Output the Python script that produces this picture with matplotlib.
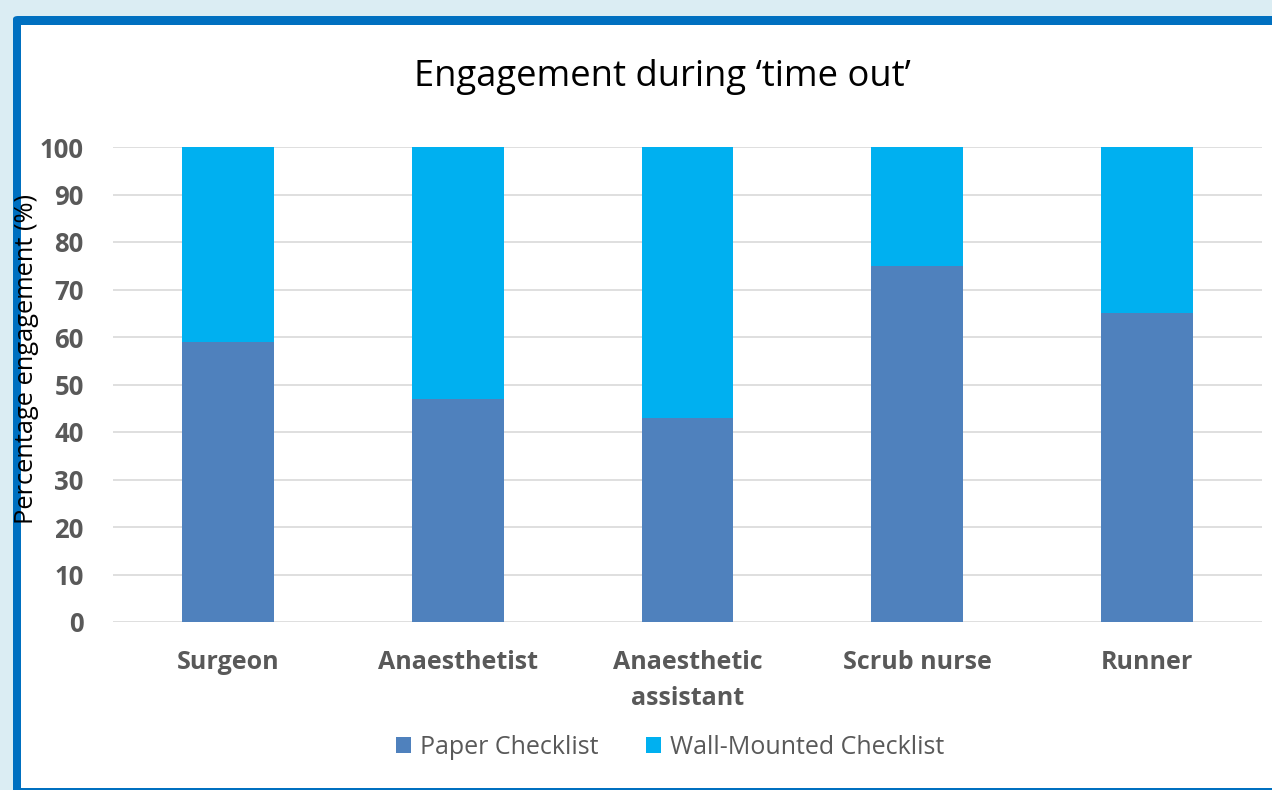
import numpy as np
import matplotlib.pyplot as plt
from matplotlib.patches import Rectangle, FancyBboxPatch

#--------data--------
roles = ["Surgeon", "Anaesthetist", "Anaesthetic\nassistant", "Scrub nurse", "Runner"]
paper = [59, 47, 43, 75, 65]
wall = [41, 53, 57, 25, 35]
series_names = ["Paper Checklist", "Wall-Mounted Checklist"]
#--------config--------
c_paper = "#4f81bd"
c_wall = "#00b0f0"
grey = "#595959"
W, H = 1272, 790

plt.rcParams['font.family'] = ['Open Sans', 'DejaVu Sans']

fig = plt.figure(figsize=(W / 100, H / 100), dpi=100)
fig.patch.set_facecolor("#dbedf3")

# frame: blue border + white panel
fig.patches.append(FancyBboxPatch((13 / W, (H - 800) / H), 1.1, (800 - 16) / H,
                                  boxstyle="round,pad=0,rounding_size=0.004",
                                  transform=fig.transFigure, facecolor="#0070c0",
                                  edgecolor="none", zorder=-2))
fig.patches.append(Rectangle((21 / W, 2 / H), 1.1, (788 - 25) / H,
                             transform=fig.transFigure, facecolor="white",
                             edgecolor="none", zorder=-1))

ax = fig.add_axes([113 / W, (H - 622) / H, (1262 - 113) / W, (622 - 147) / H])
ax.set_facecolor("none")
ax.set_zorder(1)

x = np.arange(len(roles))
ax.bar(x, paper, width=0.4, color=c_paper, label=series_names[0], zorder=3)
ax.bar(x, wall, width=0.4, bottom=paper, color=c_wall, label=series_names[1], zorder=3)

ax.set_xlim(-0.5, len(roles) - 0.5)
ax.set_ylim(0, 100)
ax.set_yticks(np.arange(0, 101, 10))
ax.grid(axis="y", color="#d9d9d9", linewidth=1.2, zorder=0)
for s in ax.spines.values():
    s.set_visible(False)
ax.tick_params(length=0)
ax.tick_params(axis="y", pad=21)
ax.tick_params(axis="x", pad=20)
ax.set_xticks(x)
ax.set_xticklabels(roles, fontsize=18, fontweight="bold", color=grey, linespacing=1.6)
for lab in ax.get_yticklabels():
    lab.set_fontsize(18.5)
    lab.set_fontweight("bold")
    lab.set_color(grey)

fig.text(662 / W, 1 - 77 / H, "Engagement during \u2018time out\u2019", ha="center",
         va="center", fontsize=26.2, color="black")
fig.text(27 / W, 1 - 359 / H, "Percentage engagement (%)", rotation=90, ha="center",
         va="center", fontsize=18.3, color="black")

fig.legend(loc="center", bbox_to_anchor=(670 / W, 1 - 747 / H), ncol=2, frameon=False,
           fontsize=18, labelcolor=grey, handlelength=0.6, handleheight=0.6,
           handletextpad=0.36, columnspacing=1.9)

plt.savefig("out.png", dpi=100)
